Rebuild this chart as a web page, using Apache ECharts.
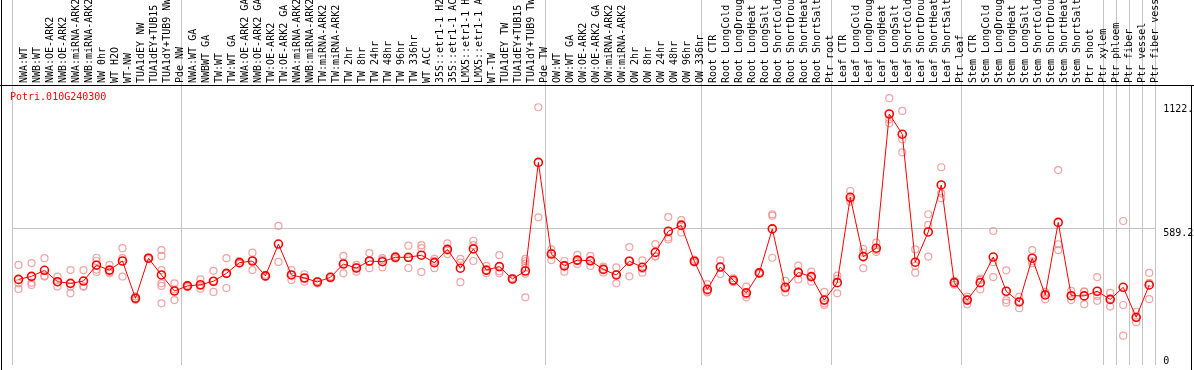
<!DOCTYPE html>
<html><head><meta charset="utf-8">
<script src="https://cdn.jsdelivr.net/npm/echarts@6/dist/echarts.min.js"></script>
<style>html,body{margin:0;padding:0;background:#fff}#c{width:1194px;height:370px}</style>
</head><body><div id="c"></div>
<script>
const geneId = 'Potri.010G240300';

const categories = [
  'NWA:WT','NWB:WT','NWA:OE-ARK2','NWB:OE-ARK2','NWA:miRNA-ARK2','NWB:miRNA-ARK2','NW 0hr','WT H2O','WT-NW',
  'TUA1dEY NW','TUA1dEY+TUB15 NW','TUA1dY+TUB9 NW','Pde NW',
  'NWA:WT GA','NWBWT GA','TW:WT','TW:WT GA','NWA:OE-ARK2 GA','NWB:OE-ARK2 GA','TW:OE-ARK2','TW:OE-ARK2 GA',
  'NWA:miRNA-ARK2 GA','NWB:miRNA-ARK2 GA','TW:miRNA-ARK2','TW:miRNA-ARK2 GA',
  'TW 2hr','TW 8hr','TW 24hr','TW 48hr','TW 96hr','TW 336hr','WT ACC',
  '35S::etr1-1 H2O','35S::etr1-1 ACC','LMX5::etr1-1 H2O','LMX5::etr1-1 ACC',
  'WT-TW','TUA1dEY TW','TUA1dEY+TUB15 TW','TUA1dY+TUB9 TW','Pde TW',
  'OW:WT','OW:WT GA','OW:OE-ARK2','OW:OE-ARK2 GA','OW:miRNA-ARK2','OW:miRNA-ARK2 GA',
  'OW 2hr','OW 8hr','OW 24hr','OW 48hr','OW 96hr','OW 336hr',
  'Root CTR','Root LongCold','Root LongDrought','Root LongHeat','Root LongSalt',
  'Root ShortCold','Root ShortDrought','Root ShortHeat','Root ShortSalt','Ptr root',
  'Leaf CTR','Leaf LongCold','Leaf LongDrought','Leaf LongHeat','Leaf LongSalt',
  'Leaf ShortCold','Leaf ShortDrought','Leaf ShortHeat','Leaf ShortSalt','Ptr leaf',
  'Stem CTR','Stem LongCold','Stem LongDrought','Stem LongHeat','Stem LongSalt',
  'Stem ShortCold','Stem ShortDrought','Stem ShortHeat','Stem ShortSalt','Ptr shoot','Ptr xylem',
  'Ptr phloem','Ptr fiber','Ptr vessel','Ptr fiber vessel'
];

const means = [
  368, 381, 407, 358, 351, 361, 429, 408, 447, 287, 459, 387, 318,
  340, 345, 360, 394, 440, 447, 383, 520, 387,
  374, 357, 377, 434, 417, 447, 444, 463, 463, 472, 440, 497, 416, 499, 408, 423, 370, 404, 871,
  477, 426, 451, 448, 411, 387, 446, 420, 484, 575, 600, 446,
  325, 421, 364, 310, 396, 585, 334, 398, 380, 279,
  354, 721, 466, 502, 1079, 992, 442, 572, 774, 354,
  279, 354, 464, 317, 271, 459, 301, 613, 298, 297, 317,
  282, 334, 205, 344
];

const replicates = [
  [430,351,327],[438,354,344],[459,380,384],[380,337,357],[408,337,308],[408,337,338],
  [461,447,410,400],[430,394,400],[502,380,459],[279,287,295],[463,455,459],
  [494,469,408,351,340,265],[351,279,325],
  [345,335,340],[368,328,340],[405,314,361],[459,331,392],[447,437,436],[483,408,450],
  [388,378,383],[598,443],[408,365,388],[390,358,374],[360,350,360],[380,372,379],
  [469,394,440],[420,401,430],[481,416,445],[459,420,452],[469,457,463],[513,417,459],
  [515,502,400],[456,416,448],[523,477,492],[456,440,356],[534,447,515],[426,394,404],
  [472,394,403],[374,366,370],[456,446,436,420,392,291],[1108,635],
  [497,451,483],[447,401,430],[473,434,446],[469,426,449],[423,397,413],[420,351,390],
  [507,381,450],[450,397,413],[520,466,467],[636,540,548],[623,607,570],[453,440,446],
  [348,312,316],[450,391,423],[373,356,364],[337,291,302],[400,392,396],[648,642,461],
  [362,312,328],[427,368,400],[401,358,380],[314,265,258],
  [384,308,370],[748,702,713],[499,416,483],[526,494,486],[1147,1056,1039],[1092,970,914],
  [497,426,397],[648,602,466],[850,738,717],[362,345,355],
  [294,261,283],[371,325,366],[576,442,378],[407,279,268],[294,244,275],[494,437,446],
  [306,283,314],[838,519,494],[319,279,296],[315,261,315],[378,276,297],
  [310,251,285],[619,258,126],[229,184,202],[396,283,353]
];

const yLabelValues = [0, 589.2, 1122.5];
const yGridValues = [589.2];
const groupStarts = [0, 13, 41, 53, 63, 73, 84, 85, 86, 87];

const FONT = 'DejaVu Sans Mono';
const repData = [];
replicates.forEach((arr, i) => arr.forEach(v => repData.push([i, v])));

const chart = echarts.init(document.getElementById('c'), null, { renderer: 'canvas' });
chart.setOption({
  animation: false,
  backgroundColor: '#fff',
  title: {
    text: geneId, left: 10, top: 92, padding: 0,
    textStyle: { color: '#ff0000', fontSize: 10, fontWeight: 'normal', fontFamily: FONT }
  },
  grid: [
    { left: 18, right: 32.3, top: 0, height: 85, outerBoundsMode: 'none', containLabel: false },
    { left: 12, right: 38.3, top: 0, bottom: 5, outerBoundsMode: 'none', containLabel: false }
  ],
  xAxis: [
    {
      type: 'category', gridIndex: 0, data: categories, position: 'bottom',
      axisLine: { show: false }, axisTick: { show: false }, splitLine: { show: false },
      axisLabel: { interval: 0, rotate: 90, inside: true, margin: 2, fontFamily: FONT, fontSize: 10, color: '#000' }
    },
    {
      type: 'category', gridIndex: 1, data: categories,
      axisLine: { show: false }, axisTick: { show: false }, axisLabel: { show: false },
      splitLine: {
        show: true,
        interval: (idx) => groupStarts.indexOf(idx) >= 0,
        lineStyle: { color: '#c4c4c4', width: 1, type: 'solid' }
      }
    }
  ],
  yAxis: [
    { type: 'value', gridIndex: 0, show: false, min: 0, max: 1 },
    {
      type: 'value', gridIndex: 1, position: 'right', min: 0, max: 1569,
      axisLine: { show: false },
      axisTick: { show: false, customValues: yGridValues },
      splitLine: { show: true, lineStyle: { color: '#c4c4c4', width: 1 } },
      axisLabel: {
        customValues: yLabelValues, margin: 7.5, fontFamily: FONT, fontSize: 10, color: '#000',
        formatter: (v) => v === 0 ? '{b|0}' : '{t|' + v + '}',
        rich: {
          t: { fontFamily: FONT, fontSize: 10, color: '#000', padding: [11, 0, 0, 0] },
          b: { fontFamily: FONT, fontSize: 10, color: '#000', padding: [0, 0, 8, 0] }
        }
      }
    }
  ],
  series: [
    {
      type: 'scatter', xAxisIndex: 1, yAxisIndex: 1, data: repData, z: 2,
      symbol: 'circle', symbolSize: 7,
      itemStyle: { color: 'rgba(0,0,0,0)', borderColor: '#ee8c8c', borderWidth: 1.2 }
    },
    {
      type: 'line', xAxisIndex: 1, yAxisIndex: 1, data: means, z: 3,
      symbol: 'circle', symbolSize: 8, showAllSymbol: true,
      lineStyle: { color: '#ff0000', width: 1 },
      itemStyle: { color: 'rgba(0,0,0,0)', borderColor: '#ff0000', borderWidth: 1.6 }
    }
  ],
  graphic: [
    { type: 'rect', z: 50, shape: { x: 1156, y: 86, width: 36, height: 284 }, style: { fill: 'rgba(0,0,0,0)' } },
    { type: 'line', z: 100, shape: { x1: 1.5, y1: 0, x2: 1.5, y2: 370 }, style: { stroke: '#000', lineWidth: 1 } },
    { type: 'line', z: 100, shape: { x1: 0, y1: 85.5, x2: 1194, y2: 85.5 }, style: { stroke: '#000', lineWidth: 1.2 } },
    { type: 'line', z: 100, shape: { x1: 1191.5, y1: 85, x2: 1191.5, y2: 370 }, style: { stroke: '#000', lineWidth: 1 } }
  ]
});
</script>
</body></html>
